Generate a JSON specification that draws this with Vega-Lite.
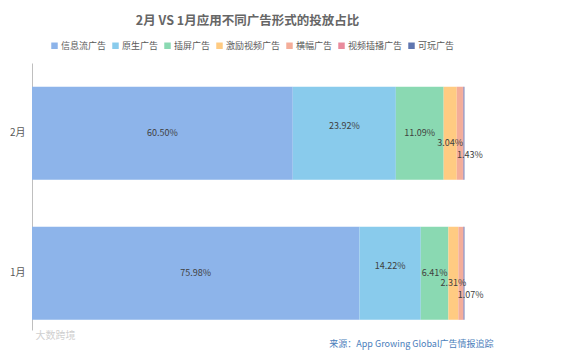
{
  "$schema": "https://vega.github.io/schema/vega-lite/v6.json",
  "autosize": {"type": "none"},
  "width": 431,
  "height": 267,
  "padding": {"top": 63, "left": 32, "right": 98, "bottom": 23},
  "background": "white",
  "config": {
    "font": "Noto Sans CJK SC",
    "view": {"stroke": null}
  },
  "title": {
    "text": "2月 VS 1月应用不同广告形式的投放占比",
    "fontSize": 12.5,
    "fontWeight": "bold",
    "color": "#666666",
    "anchor": "middle",
    "offset": 14
  },
  "data": {
    "values": [
      {"m": "2月", "s": "信息流广告", "k": 1, "v": 0.605},
      {"m": "2月", "s": "原生广告", "k": 2, "v": 0.2392},
      {"m": "2月", "s": "插屏广告", "k": 3, "v": 0.1109},
      {"m": "2月", "s": "激励视频广告", "k": 4, "v": 0.0304},
      {"m": "2月", "s": "横幅广告", "k": 5, "v": 0.0143},
      {"m": "2月", "s": "视频插播广告", "k": 6, "v": 0.0015},
      {"m": "2月", "s": "可玩广告", "k": 7, "v": 0.002},
      {"m": "1月", "s": "信息流广告", "k": 1, "v": 0.7598},
      {"m": "1月", "s": "原生广告", "k": 2, "v": 0.1422},
      {"m": "1月", "s": "插屏广告", "k": 3, "v": 0.0641},
      {"m": "1月", "s": "激励视频广告", "k": 4, "v": 0.0231},
      {"m": "1月", "s": "横幅广告", "k": 5, "v": 0.0107},
      {"m": "1月", "s": "视频插播广告", "k": 6, "v": 0.0015},
      {"m": "1月", "s": "可玩广告", "k": 7, "v": 0.002}
    ]
  },
  "transform": [
    {"stack": "v", "groupby": ["m"], "sort": [{"field": "k", "order": "ascending"}], "as": ["v0", "v1"]},
    {"calculate": "(datum.v0 + datum.v1) / 2", "as": "mid"}
  ],
  "encoding": {
    "y": {
      "field": "m",
      "type": "nominal",
      "sort": ["2月", "1月"],
      "scale": {"paddingInner": 0.336, "paddingOuter": 0.121, "align": 0.7},
      "axis": {
        "title": "大数跨境",
        "titleAngle": 0,
        "titleAlign": "left",
        "titleBaseline": "middle",
        "titleX": 3,
        "titleY": 272,
        "titleColor": "#D0D0D0",
        "titleFontSize": 10,
        "titleFontWeight": "normal",
        "labelFontSize": 10,
        "labelColor": "#595959",
        "labelPadding": 7,
        "ticks": false,
        "domainColor": "#BFBFBF",
        "grid": false
      }
    }
  },
  "layer": [
    {
      "mark": {"type": "bar"},
      "encoding": {
        "x": {
          "field": "v0",
          "type": "quantitative",
          "scale": {"domain": [0, 1], "nice": false, "zero": true},
          "axis": {
            "title": "来源：App Growing Global广告情报追踪",
            "titleColor": "#4A7EBB",
            "titleFontSize": 9,
            "titleFontWeight": "normal",
            "titleAlign": "right",
            "titleBaseline": "middle",
            "titleX": 461,
            "titleY": 13,
            "labels": false,
            "ticks": false,
            "domain": false,
            "grid": false
          }
        },
        "x2": {"field": "v1"},
        "color": {
          "field": "s",
          "type": "nominal",
          "scale": {
            "domain": ["信息流广告", "原生广告", "插屏广告", "激励视频广告", "横幅广告", "视频插播广告", "可玩广告"],
            "range": ["#8DB4EA", "#89CBEC", "#8AD9B2", "#FFCB82", "#F4AD99", "#E98B9C", "#5F76B0"]
          },
          "legend": {
            "title": null,
            "orient": "none",
            "legendX": 18,
            "legendY": -22,
            "direction": "horizontal",
            "symbolType": "square",
            "symbolSize": 42,
            "symbolStrokeWidth": 0,
            "labelFontSize": 9,
            "labelColor": "#595959",
            "labelOffset": 2,
            "columnPadding": 4
          }
        }
      }
    },
    {
      "transform": [{"filter": "datum.k == 1 || datum.k == 3"}],
      "mark": {"type": "text", "fontSize": 9, "color": "#404040"},
      "encoding": {
        "x": {"field": "mid", "type": "quantitative"},
        "text": {"field": "v", "type": "quantitative", "format": ".2%"}
      }
    },
    {
      "transform": [{"filter": "datum.k == 2"}],
      "mark": {"type": "text", "fontSize": 9, "color": "#404040", "dy": -7},
      "encoding": {
        "x": {"field": "mid", "type": "quantitative"},
        "text": {"field": "v", "type": "quantitative", "format": ".2%"}
      }
    },
    {
      "transform": [{"filter": "datum.k == 4"}],
      "mark": {"type": "text", "fontSize": 9, "color": "#404040", "dy": 10},
      "encoding": {
        "x": {"field": "mid", "type": "quantitative"},
        "text": {"field": "v", "type": "quantitative", "format": ".2%"}
      }
    },
    {
      "transform": [{"filter": "datum.k == 5"}],
      "mark": {"type": "text", "fontSize": 9, "color": "#404040", "dx": 10, "dy": 22},
      "encoding": {
        "x": {"field": "mid", "type": "quantitative"},
        "text": {"field": "v", "type": "quantitative", "format": ".2%"}
      }
    }
  ]
}
